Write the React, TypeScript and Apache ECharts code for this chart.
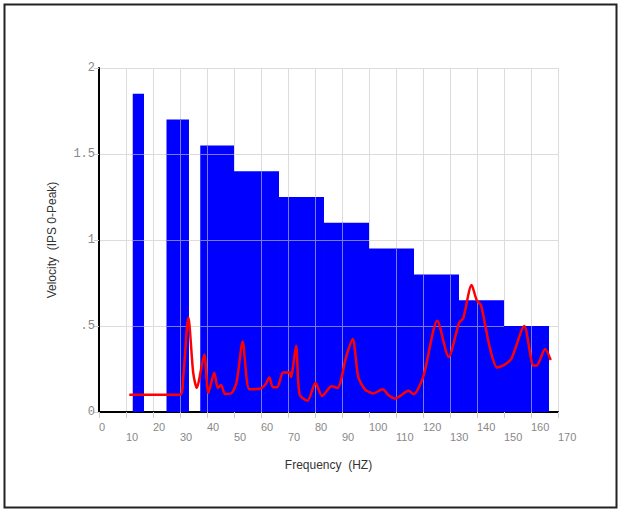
import React, { useEffect, useRef } from "react";
import * as echarts from "echarts";

// Alarm band rectangles (frequency in Hz, velocity limit)
const bandStart = [12.5, 25, 37.5, 50, 66.67, 83.33, 100, 116.67, 133.33, 150];
const bandEnd = [16.67, 33.33, 50, 66.67, 83.33, 100, 116.67, 133.33, 150, 166.67];
const bandLevel = [1.85, 1.7, 1.55, 1.4, 1.25, 1.1, 0.95, 0.8, 0.65, 0.5];

// Spectrum trace
const specFreq = [
  11.2, 30, 31.2, 33.1, 34.9, 36.2, 39, 40.5, 42.7, 44, 45.2, 46.7, 49.1, 51, 53.2, 55.7,
  59.6, 61.5, 63.1, 64.4, 66, 68.2, 70.6, 71.1, 73, 74.3, 77.2, 80.2, 82.6, 86.2, 88.3,
  91.7, 94, 96, 98.5, 101.6, 105, 107.2, 109.6, 114.7, 116.5, 120.1, 125.3, 129.5, 133.4,
  134.9, 138, 139.9, 141.5, 144.8, 147.5, 150.4, 152.8, 157.5, 160.9, 162.1, 165.2, 167.3,
];
const specVel = [
  0.1, 0.1, 0.205, 0.55, 0.227, 0.14, 0.335, 0.11, 0.228, 0.14, 0.157, 0.105, 0.11, 0.176, 0.41, 0.132,
  0.135, 0.157, 0.2, 0.144, 0.144, 0.229, 0.229, 0.203, 0.385, 0.1, 0.066, 0.17, 0.093, 0.15, 0.14,
  0.33, 0.424, 0.205, 0.132, 0.108, 0.132, 0.099, 0.078, 0.123, 0.103, 0.205, 0.531, 0.32, 0.52,
  0.545, 0.738, 0.65, 0.62, 0.37, 0.258, 0.277, 0.312, 0.5, 0.27, 0.27, 0.366, 0.302,
];

const xTicks = [0, 10, 20, 30, 40, 50, 60, 70, 80, 90, 100, 110, 120, 130, 140, 150, 160, 170];
const yTicks = [0, 0.5, 1, 1.5, 2];
const yTickText = ["0", ".5", "1", "1.5", "2"];

export default function App() {
  const ref = useRef<HTMLDivElement>(null);
  useEffect(() => {
    if (!ref.current) return;
    const chart = echarts.init(ref.current, null, { renderer: "svg" });
    const bands = bandStart.map((s, i) => [s, bandEnd[i], bandLevel[i]]);
    const spec = specFreq.map((f, i) => [f, specVel[i]]);
    const onBlue = { stroke: "#7a7ae2", lineWidth: 1, fill: "none" };
    chart.setOption({
      animation: false,
      backgroundColor: "#ffffff",
      graphic: [
        {
          type: "rect",
          shape: { x: 4.5, y: 4.5, width: 612, height: 503 },
          style: { fill: "none", stroke: "#222", lineWidth: 2 },
          z: 10,
        },
      ],
      grid: { left: 99, right: 63, top: 68, bottom: 100 },
      xAxis: {
        type: "value",
        min: 0,
        max: 170,
        interval: 10,
        name: "Frequency  (HZ)",
        nameLocation: "middle",
        nameGap: 47,
        nameTextStyle: { fontFamily: "Liberation Sans, Arial", fontSize: 12, color: "#333" },
        axisLine: { show: true, lineStyle: { color: "#000", width: 2 } },
        axisTick: { show: true, length: 6, lineStyle: { color: "#ccc" } },
        splitLine: { show: true, lineStyle: { color: "#dcdcdc", width: 1 } },
        axisLabel: {
          margin: 10,
          align: "left",
          lineHeight: 10,
          fontFamily: "Liberation Sans, Arial",
          fontSize: 11,
          color: "#888",
          formatter: (v: number) => {
            const i = xTicks.indexOf(v);
            return i % 2 === 1 ? "\n" + v : String(v);
          },
        },
      },
      yAxis: {
        type: "value",
        min: 0,
        max: 2,
        interval: 0.5,
        name: "Velocity  (IPS 0-Peak)",
        nameLocation: "middle",
        nameGap: 41,
        nameTextStyle: { fontFamily: "Liberation Sans, Arial", fontSize: 12, color: "#333" },
        axisLine: { show: true, lineStyle: { color: "#000", width: 2 } },
        axisTick: { show: true, length: 5, lineStyle: { color: "#ccc" } },
        splitLine: { show: true, lineStyle: { color: "#dcdcdc", width: 1 } },
        axisLabel: {
          margin: 4,
          fontFamily: "Liberation Mono, monospace",
          fontSize: 12,
          color: "#888",
          formatter: (v: number) => {
            const i = yTicks.indexOf(v);
            return i >= 0 ? yTickText[i] : String(v);
          },
        },
      },
      series: [
        {
          type: "custom",
          z: 2,
          data: bands,
          encode: { x: [0, 1], y: 2 },
          renderItem: (params: any, api: any) => {
            const x0 = api.value(0), x1 = api.value(1), h = api.value(2);
            const p0 = api.coord([x0, h]);
            const p1 = api.coord([x1, 0]);
            const children: any[] = [
              {
                type: "rect",
                shape: { x: p0[0], y: p0[1], width: p1[0] - p0[0], height: p1[1] - p0[1] },
                style: { fill: "#0000ff" },
              },
            ];
            xTicks.forEach((t) => {
              if (t > x0 && t < x1) {
                const a = api.coord([t, h]);
                const b = api.coord([t, 0]);
                const px = Math.round(a[0]) + 0.5;
                children.push({ type: "line", shape: { x1: px, y1: a[1], x2: px, y2: b[1] }, style: onBlue });
              }
            });
            yTicks.forEach((t) => {
              if (t > 0 && t < h) {
                const a = api.coord([x0, t]);
                const b = api.coord([x1, t]);
                const py = Math.round(a[1]) + 0.5;
                children.push({ type: "line", shape: { x1: a[0], y1: py, x2: b[0], y2: py }, style: onBlue });
              }
            });
            return { type: "group", children };
          },
        },
        {
          type: "line",
          z: 5,
          data: spec,
          showSymbol: false,
          smooth: 0.25,
          lineStyle: { color: "#ff0000", width: 2.5 },
        },
      ],
    });
    return () => chart.dispose();
  }, []);
  return (
    <div
      ref={ref}
      style={{ position: "fixed", left: 0, top: 0, width: 621, height: 512 }}
    />
  );
}
